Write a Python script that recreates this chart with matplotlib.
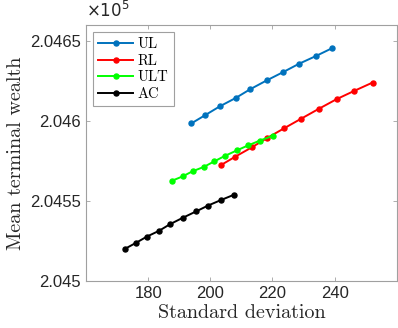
import matplotlib
matplotlib.use("Agg")
import matplotlib.pyplot as plt
from matplotlib.ticker import FuncFormatter

# values (y in units of 1e5)
ul_x = [193.9, 198.4, 203.1, 208.2, 212.8, 218.1, 223.4, 228.5, 233.9, 239.1]
ul_y = [2.045985, 2.046037, 2.046092, 2.046144, 2.046198, 2.046253, 2.046305, 2.046357, 2.046405, 2.046454]

rl_x = [203.3, 208.1, 213.4, 218.4, 223.8, 229.2, 235.0, 240.6, 246.3, 252.2]
rl_y = [2.045723, 2.045778, 2.045836, 2.045895, 2.045955, 2.046014, 2.046077, 2.046136, 2.046188, 2.046240]

ult_x = [187.7, 191.1, 194.3, 197.9, 201.3, 204.7, 208.5, 212.1, 216.0, 220.2]
ult_y = [2.045627, 2.045654, 2.045686, 2.045713, 2.045748, 2.045782, 2.045816, 2.045847, 2.045878, 2.045908]

ac_x = [172.5, 176.2, 179.6, 183.5, 187.1, 191.1, 195.4, 199.3, 203.4, 207.7]
ac_y = [2.045201, 2.045240, 2.045278, 2.045314, 2.045356, 2.045395, 2.045435, 2.045472, 2.045506, 2.045540]

labels = ["UL", "RL", "ULT", "AC"]
colors = ["#0072BD", "#FF0000", "#00FF00", "#000000"]
xticks = [180, 200, 220, 240]
yticks = [2.045, 2.0455, 2.046, 2.0465]

fig = plt.figure(figsize=(3.98, 3.28), dpi=100)
ax = fig.add_axes([0.216, 0.143, 0.781, 0.781])

series = [(ul_x, ul_y), (rl_x, rl_y), (ult_x, ult_y), (ac_x, ac_y)]
for (xs, ys), lab, c in zip(series, labels, colors):
    ax.plot(xs, ys, color=c, lw=1.4, marker="o", ms=3.6, label=lab)

ax.set_xlim(160, 260)
ax.set_ylim(2.045, 2.0466)
ax.set_xticks(xticks)
ax.set_yticks(yticks)
ax.yaxis.set_major_formatter(FuncFormatter(lambda v, p: "%g" % v))

tick_col = "#262626"
for s in ax.spines.values():
    s.set_color("#a0a0a0")
    s.set_linewidth(0.8)
ax.tick_params(direction="in", length=3, width=0.6, colors="#a0a0a0",
               labelcolor=tick_col, labelsize=12, top=True, right=True)
for t in ax.get_xticklabels() + ax.get_yticklabels():
    t.set_fontfamily("Liberation Sans")

ax.text(0.0, 1.015, r"$\times\mathsf{10^5}$", transform=ax.transAxes,
        fontsize=12, color=tick_col, ha="left", va="bottom")

ax.set_xlabel("Standard deviation", fontfamily="cmr10", fontsize=14.5, color=tick_col, labelpad=2)
ax.set_ylabel("Mean terminal wealth", fontfamily="cmr10", fontsize=14.5, color=tick_col, labelpad=4)

leg = ax.legend(loc="upper left", prop={"family": "cmr10", "size": 10.5},
                fancybox=False, edgecolor="#a0a0a0", framealpha=1,
                borderaxespad=0.5, handlelength=2.4, handletextpad=0.3,
                labelspacing=0.2, borderpad=0.35)
leg.get_frame().set_linewidth(0.8)

fig.savefig("out.png", dpi=100)
